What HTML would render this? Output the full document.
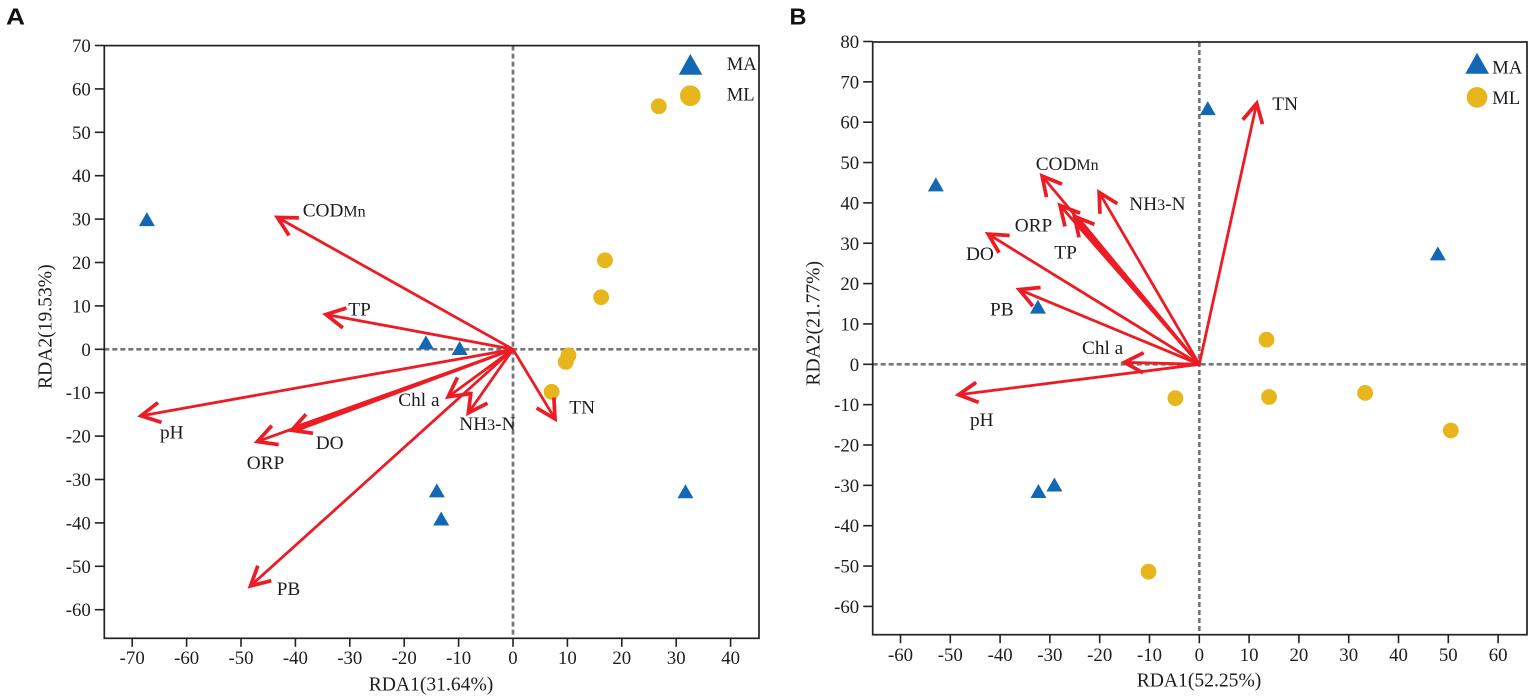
<!DOCTYPE html>
<html lang="en">
<head>
<meta charset="utf-8">
<title>RDA biplots</title>
<style>
html,body{margin:0;padding:0;background:#fff;width:1535px;height:700px;overflow:hidden}
svg{display:block}
text{font-family:"Liberation Serif",serif;font-size:18.8px;fill:#1d1d1d}
.letter{font-family:"Liberation Sans",sans-serif;font-weight:700;font-size:23px;fill:#111}
.title{font-size:19.6px}
.lab{font-size:19.3px}
.leg{font-size:18.6px}
.sm{font-size:16px}
</style>
</head>
<body>
<svg id="figure" width="1535" height="700" viewBox="0 0 1535 700" xmlns="http://www.w3.org/2000/svg">
  <rect width="1535" height="700" fill="#fff"/>
  <g id="panel-a"></g>
  <g id="panel-b"></g>

  <text class="letter" x="6" y="24.5" textLength="19" lengthAdjust="spacingAndGlyphs">A</text>
  <text class="letter" x="789.5" y="24.5" textLength="17" lengthAdjust="spacingAndGlyphs">B</text>

  <text class="title" x="431" y="690.5" text-anchor="middle">RDA1(31.64%)</text>
  <text class="title" transform="translate(51.7,326.7) rotate(-90)" text-anchor="middle">RDA2(19.53%)</text>
  <text class="title" x="1199" y="686.7" text-anchor="middle">RDA1(52.25%)</text>
  <text class="title" transform="translate(819.3,323.3) rotate(-90)" text-anchor="middle">RDA2(21.77%)</text>

  <g>
    <text class="lab" x="302.7" y="216.7">COD<tspan class="sm">Mn</tspan></text>
    <text class="lab" x="348.3" y="315.7">TP</text>
    <text class="lab" x="160" y="438.3">pH</text>
    <text class="lab" x="315.7" y="449">DO</text>
    <text class="lab" x="246.7" y="469">ORP</text>
    <text class="lab" x="276.7" y="595">PB</text>
    <text class="lab" x="398.3" y="406">Chl a</text>
    <text class="lab" x="459.3" y="430">NH<tspan class="sm">3</tspan>-N</text>
    <text class="lab" x="569.3" y="413.3">TN</text>
  </g>
  <g>
    <text class="lab" x="1272.3" y="110">TN</text>
    <text class="lab" x="1035.7" y="170">COD<tspan class="sm">Mn</tspan></text>
    <text class="lab" x="1129.3" y="210">NH<tspan class="sm">3</tspan>-N</text>
    <text class="lab" x="1014.7" y="231.7">ORP</text>
    <text class="lab" x="1054.3" y="258.7">TP</text>
    <text class="lab" x="966" y="260">DO</text>
    <text class="lab" x="990" y="315.7">PB</text>
    <text class="lab" x="1082" y="354">Chl a</text>
    <text class="lab" x="970" y="426">pH</text>
  </g>

  <g>
    <polygon points="690.3,54 702.3,74.7 678.8,74.7" fill="#1368b4"/>
    <circle cx="690.3" cy="95.7" r="10.3" fill="#e6b61c"/>
    <text class="leg" x="726.7" y="70">MA</text>
    <text class="leg" x="726.7" y="100.7">ML</text>
  </g>
  <g>
    <polygon points="1477,52.7 1489,73.7 1465.3,73.7" fill="#1368b4"/>
    <circle cx="1477" cy="97.3" r="10.3" fill="#e6b61c"/>
    <text class="leg" x="1492.3" y="73.3">MA</text>
    <text class="leg" x="1492.3" y="104">ML</text>
  </g>
</svg>

<script>
/* Panel A values */
const aXTicks = [-70,-60,-50,-40,-30,-20,-10,0,10,20,30,40];
const aYTicks = [70,60,50,40,30,20,10,0,-10,-20,-30,-40,-50,-60];
const aVectorNames = ['CODMn','TP','pH','ORP','DO','PB','Chl a','NH3-N','TN'];
const aVectorRDA1 = [-43.6,-34.7,-68.7,-47.3,-41,-48.5,-12.2,-8.4,7.9];
const aVectorRDA2 = [30.6,8.1,-15.4,-21.4,-18.8,-54.8,-11.2,-15,-16.4];
const aMARDA1 = [-67.3,-16,-9.8,-14,-13.2,31.7];
const aMARDA2 = [30,1.6,0.3,-32.5,-39,-32.7];
const aMLRDA1 = [26.8,16.9,16.2,10.2,9.7,7.1];
const aMLRDA2 = [56,20.5,12,-1.4,-2.9,-9.8];

/* Panel B values */
const bXTicks = [-60,-50,-40,-30,-20,-10,0,10,20,30,40,50,60];
const bYTicks = [80,70,60,50,40,30,20,10,0,-10,-20,-30,-40,-50,-60];
const bVectorNames = ['TN','CODMn','NH3-N','ORP','TP','DO','PB','Chl a','pH'];
const bVectorRDA1 = [11.6,-31.8,-20.3,-28.2,-25.3,-42.7,-36.5,-15.4,-48.7];
const bVectorRDA2 = [65.1,47,43,39.7,37,32.5,18.7,0.5,-7.6];
const bMARDA1 = [1.7,-52.9,-32.4,47.9,-32.3,-29.1];
const bMARDA2 = [63.5,44.6,14.3,27.5,-31.4,-29.8];
const bMLRDA1 = [13.5,-4.8,14,33.3,50.5,-10.2];
const bMLRDA2 = [6.1,-8.4,-8.1,-7.1,-16.4,-51.4];

const SVG_NS = 'http://www.w3.org/2000/svg';
const RED = '#ed1c24';
const AXIS = '#222';

function make(parent, tag, props) {
  const el = document.createElementNS(SVG_NS, tag);
  for (const k in props) el.setAttribute(k, props[k]);
  parent.appendChild(el);
  return el;
}

function drawPanel(root, prefix, frame, x, y, xTicks, yTicks, names, vx, vy, maX, maY, mlX, mlY, tickBaseline, taperedName) {
  const dashH = make(root, 'line', {x1: frame.left, x2: frame.right, y1: y(0), y2: y(0), stroke: '#777', 'stroke-width': 2.7, 'stroke-dasharray': '5 3'});
  
  
  const dashV = make(root, 'line', {x1: x(0), x2: x(0), y1: frame.top, y2: frame.bottom, stroke: '#777', 'stroke-width': 2.7, 'stroke-dasharray': '5 3'});
  
  

  const box = make(root, 'rect', {x: frame.left, y: frame.top, width: frame.right - frame.left, height: frame.bottom - frame.top, fill: 'none', stroke: AXIS, 'stroke-width': 1.7});
  
  

  xTicks.forEach(function (t) {
    const tick = make(root, 'line', {x1: x(t), x2: x(t), y1: frame.bottom, y2: frame.bottom + 8.5, stroke: AXIS, 'stroke-width': 1.6});
    
    
    const label = make(root, 'text', {x: x(t), y: tickBaseline, 'text-anchor': 'middle'});
    
    
    label.textContent = t;
  });

  yTicks.forEach(function (t) {
    const tick = make(root, 'line', {x1: frame.left - 9.5, x2: frame.left, y1: y(t), y2: y(t), stroke: AXIS, 'stroke-width': 1.6});
    
    
    const label = make(root, 'text', {x: frame.left - 13.5, y: y(t) + 6.5, 'text-anchor': 'end'});
    
    
    label.textContent = t;
  });

  maX.forEach(function (v, i) {
    const cx = x(v), cy = y(maY[i]);
    const tri = make(root, 'polygon', {points: cx + ',' + (cy - 7) + ' ' + (cx + 8) + ',' + (cy + 7) + ' ' + (cx - 8) + ',' + (cy + 7), fill: '#1368b4'});
    
    
  });

  mlX.forEach(function (v, i) {
    const dot = make(root, 'circle', {cx: x(v), cy: y(mlY[i]), r: 7.9, fill: '#e6b61c'});
    
    
  });

  const spread = 28 * Math.PI / 180;
  const barb = 21.5;
  const miterInset = 1.8;
  vx.forEach(function (v, i) {
    const tipX = x(v), tipY = y(vy[i]);
    const ox = x(0), oy = y(0);
    const back = Math.atan2(oy - tipY, ox - tipX);
    const tx = tipX + miterInset * Math.cos(back);
    const ty = tipY + miterInset * Math.sin(back);
    const group = make(root, 'g', {});
    
    
    if (names[i] === taperedName) {
      const nx = -Math.sin(back), ny = Math.cos(back);
      const headX = tx + 8 * Math.cos(back), headY = ty + 8 * Math.sin(back);
      make(group, 'polygon', {
        points: (ox + nx * 1.3) + ',' + (oy + ny * 1.3) + ' ' + (ox - nx * 1.3) + ',' + (oy - ny * 1.3) + ' ' +
                (headX - nx * 3.2) + ',' + (headY - ny * 3.2) + ' ' + tx + ',' + ty + ' ' +
                (headX + nx * 3.2) + ',' + (headY + ny * 3.2),
        fill: RED
      });
    } else {
      make(group, 'line', {x1: ox, y1: oy, x2: tx, y2: ty, stroke: RED, 'stroke-width': 2.8, 'stroke-linecap': 'round'});
    }
    const pts = [
      (tx + barb * Math.cos(back - spread)) + ',' + (ty + barb * Math.sin(back - spread)),
      tx + ',' + ty,
      (tx + barb * Math.cos(back + spread)) + ',' + (ty + barb * Math.sin(back + spread))
    ].join(' ');
    make(group, 'polyline', {points: pts, fill: 'none', stroke: RED, 'stroke-width': 3.7, 'stroke-linejoin': 'miter'});
  });
}

/* Axis functions */
function aX(v) { return 513 + v * 5.44; }
function aY(v) { return 349.3 - v * 4.34; }
function bX(v) { return 1199.3 + v * 4.98; }
function bY(v) { return 364.3 - v * 4.035; }

drawPanel(document.getElementById('panel-a'), 'a', {left: 104.3, right: 759, top: 45.6, bottom: 638.3}, aX, aY,
  aXTicks, aYTicks, aVectorNames, aVectorRDA1, aVectorRDA2, aMARDA1, aMARDA2, aMLRDA1, aMLRDA2, 664, 'DO');
drawPanel(document.getElementById('panel-b'), 'b', {left: 872.7, right: 1527, top: 42, bottom: 634.7}, bX, bY,
  bXTicks, bYTicks, bVectorNames, bVectorRDA1, bVectorRDA2, bMARDA1, bMARDA2, bMLRDA1, bMLRDA2, 661, 'TP');
</script>
</body>
</html>
